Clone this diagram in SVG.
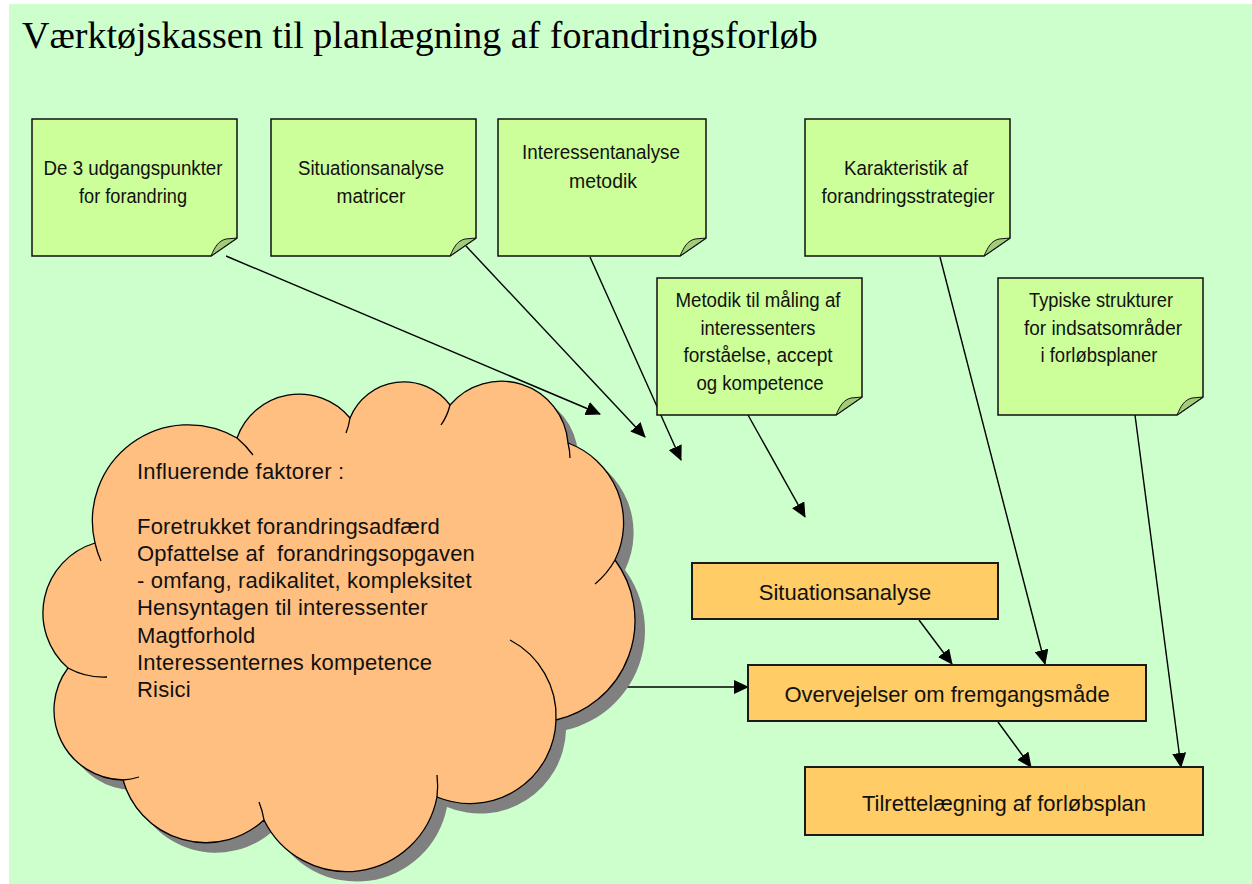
<svg xmlns="http://www.w3.org/2000/svg" width="1252" height="884" viewBox="0 0 1252 884">
  <defs>
    <style>
      .bg { fill: #CCFFCC; }
      .title { font-family: "Liberation Serif", "Times New Roman", serif; font-size: 38px; fill: #000; }
      .note { fill: #CCFF99; stroke: #111; stroke-width: 1.5; stroke-linejoin: miter; }
      .fold { fill: #A3CC7A; stroke: #111; stroke-width: 1; stroke-linejoin: round; }
      .ntxt { font-family: "Liberation Sans", Arial, sans-serif; font-size: 20.5px; fill: #111; text-anchor: middle; }
      .box { fill: #FFCC66; stroke: #1a1a1a; stroke-width: 2; }
      .btxt { font-family: "Liberation Sans", Arial, sans-serif; font-size: 22px; fill: #111; text-anchor: middle; }
      .cloud { fill: #FFBF80; stroke: #000; stroke-width: 1.3; stroke-linejoin: round; }
      .cloud-shadow { fill: #808080; }
      .tail { fill: none; stroke: #000; stroke-width: 1.3; }
      .ctxt { font-family: "Liberation Sans", Arial, sans-serif; font-size: 22px; letter-spacing: 0.2px; fill: #111; }
      .conn { fill: none; stroke: #000; stroke-width: 1.4; marker-end: url(#arr); }
    </style>
    <marker id="arr" markerUnits="userSpaceOnUse" markerWidth="15" markerHeight="14" refX="14" refY="7" orient="auto">
      <path d="M0,0 L15,7 L0,14 Z" fill="#000"/>
    </marker>
    <path id="cloud-outline" d="M95,543 A96 96 0 0 1 237,438 A66 66 0 0 1 350,418 A58 58 0 0 1 450,405 A67 67 0 0 1 568,443 A85 85 0 0 1 615,560 A102 102 0 0 1 556,720 A86 86 0 0 1 437,797 A92 92 0 0 1 264,820 A86 86 0 0 1 123,780 A70 70 0 0 1 68,668 A73 73 0 0 1 95,543 Z"/>
  </defs>

  <!-- page background -->
  <rect class="bg" x="9" y="4" width="1243" height="880"/>

  <text class="title" x="22" y="48">Værktøjskassen til planlægning af forandringsforløb</text>

  <!-- connectors -->
  <g id="connectors">
    <path class="conn" d="M226,256 L600,414"/>
    <path class="conn" d="M466,246 L645,437"/>
    <path class="conn" d="M590,257 L681,460"/>
    <path class="conn" d="M748,415 L805,517"/>
    <path class="conn" d="M940,257 L1045,664"/>
    <path class="conn" d="M1135,415 L1181,767"/>
    <path class="conn" d="M919,620 L952,664"/>
    <path class="conn" d="M998,722 L1031,767"/>
    <path class="conn" d="M624,687 L748,687"/>
  </g>

  <!-- sticky notes -->
  <g id="note-udgangspunkter">
    <path class="note" d="M32,119 H237 V238 L211,256 H32 Z"/>
    <path class="fold" d="M237,238 L211,256 C215,247 218,241 226,239 Z"/>
    <text class="ntxt" x="133" y="175" textLength="179" lengthAdjust="spacingAndGlyphs">De 3 udgangspunkter</text>
    <text class="ntxt" x="133" y="203" textLength="108" lengthAdjust="spacingAndGlyphs">for forandring</text>
  </g>

  <g id="note-situationsanalyse-matricer">
    <path class="note" d="M271,119 H476 V238 L450,256 H271 Z"/>
    <path class="fold" d="M476,238 L450,256 C454,247 457,241 465,239 Z"/>
    <text class="ntxt" x="371" y="175" textLength="146" lengthAdjust="spacingAndGlyphs">Situationsanalyse</text>
    <text class="ntxt" x="371" y="203" textLength="69" lengthAdjust="spacingAndGlyphs">matricer</text>
  </g>

  <g id="note-interessentanalyse">
    <path class="note" d="M498,119 H706 V238 L680,256 H498 Z"/>
    <path class="fold" d="M706,238 L680,256 C684,247 687,241 695,239 Z"/>
    <text class="ntxt" x="601" y="159" textLength="158" lengthAdjust="spacingAndGlyphs">Interessentanalyse</text>
    <text class="ntxt" x="603" y="188" textLength="68" lengthAdjust="spacingAndGlyphs">metodik</text>
  </g>

  <g id="note-strategier">
    <path class="note" d="M805,119 H1010 V238 L984,256 H805 Z"/>
    <path class="fold" d="M1010,238 L984,256 C988,247 991,241 999,239 Z"/>
    <text class="ntxt" x="906" y="175" textLength="124" lengthAdjust="spacingAndGlyphs">Karakteristik af</text>
    <text class="ntxt" x="908" y="203" textLength="173" lengthAdjust="spacingAndGlyphs">forandringsstrategier</text>
  </g>

  <g id="note-maaling">
    <path class="note" d="M657,278 H862 V397 L836,415 H657 Z"/>
    <path class="fold" d="M862,397 L836,415 C840,406 843,400 851,398 Z"/>
    <text class="ntxt" x="758" y="307" textLength="165" lengthAdjust="spacingAndGlyphs">Metodik til måling af</text>
    <text class="ntxt" x="758" y="335" textLength="115" lengthAdjust="spacingAndGlyphs">interessenters</text>
    <text class="ntxt" x="758" y="362" textLength="149" lengthAdjust="spacingAndGlyphs">forståelse, accept</text>
    <text class="ntxt" x="760" y="390" textLength="127" lengthAdjust="spacingAndGlyphs">og kompetence</text>
  </g>

  <g id="note-strukturer">
    <path class="note" d="M998,278 H1203 V397 L1177,415 H998 Z"/>
    <path class="fold" d="M1203,397 L1177,415 C1181,406 1184,400 1192,398 Z"/>
    <text class="ntxt" x="1101" y="307" textLength="144" lengthAdjust="spacingAndGlyphs">Typiske strukturer</text>
    <text class="ntxt" x="1103" y="335" textLength="158" lengthAdjust="spacingAndGlyphs">for indsatsområder</text>
    <text class="ntxt" x="1099" y="362" textLength="117" lengthAdjust="spacingAndGlyphs">i forløbsplaner</text>
  </g>

  <!-- influencing factors cloud -->
  <g id="cloud-faktorer">
    <use href="#cloud-outline" class="cloud-shadow" transform="translate(10,10)"/>
    <use href="#cloud-outline" class="cloud"/>
    <path class="tail" d="M101,561 A96 96 0 0 1 95,543"/>
    <path class="tail" d="M237,438 A96 96 0 0 1 253,455"/>
    <path class="tail" d="M350,418 A66 66 0 0 1 346,433"/>
    <path class="tail" d="M450,405 A58 58 0 0 1 441,425"/>
    <path class="tail" d="M568,443 A67 67 0 0 1 570,458"/>
    <path class="tail" d="M615,560 A85 85 0 0 1 595,584"/>
    <path class="tail" d="M510,640 A86 86 0 0 1 556,720"/>
    <path class="tail" d="M437,775 A92 92 0 0 1 437,797"/>
    <path class="tail" d="M259,802 A86 86 0 0 1 264,820"/>
    <path class="tail" d="M139,777 A70 70 0 0 1 123,780"/>
    <path class="tail" d="M107,677 A73 73 0 0 1 68,668"/>
    <text class="ctxt" x="137" y="479">Influerende faktorer :</text>
    <text class="ctxt" x="137" y="534">Foretrukket forandringsadfærd</text>
    <text class="ctxt" x="137" y="561" xml:space="preserve">Opfattelse af  forandringsopgaven</text>
    <text class="ctxt" x="137" y="588">- omfang, radikalitet, kompleksitet</text>
    <text class="ctxt" x="137" y="615">Hensyntagen til interessenter</text>
    <text class="ctxt" x="137" y="643">Magtforhold</text>
    <text class="ctxt" x="137" y="670">Interessenternes kompetence</text>
    <text class="ctxt" x="137" y="697">Risici</text>
  </g>

  <!-- process boxes -->
  <g id="box-situationsanalyse">
    <rect class="box" x="692" y="563" width="306" height="56"/>
    <text class="btxt" x="845" y="600">Situationsanalyse</text>
  </g>

  <g id="box-overvejelser">
    <rect class="box" x="748" y="665" width="398" height="56"/>
    <text class="btxt" x="947" y="702">Overvejelser om fremgangsmåde</text>
  </g>

  <g id="box-forloebsplan">
    <rect class="box" x="805" y="767" width="398" height="68"/>
    <text class="btxt" x="1004" y="811">Tilrettelægning af forløbsplan</text>
  </g>
</svg>
